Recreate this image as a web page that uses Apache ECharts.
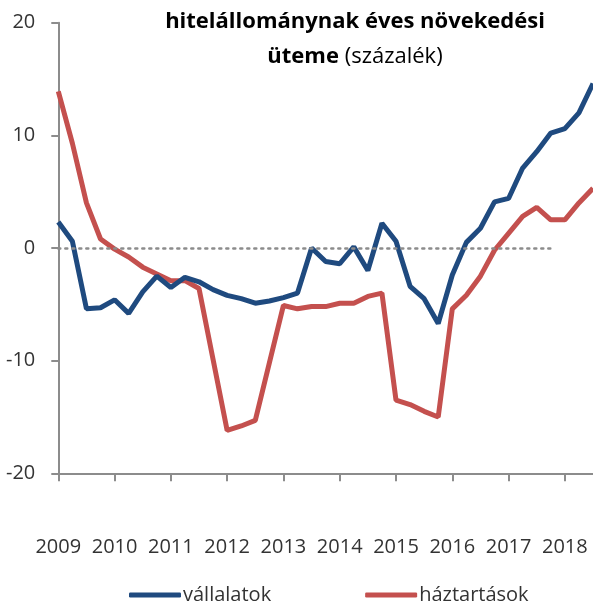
<!DOCTYPE html>
<html>
<head>
<meta charset="utf-8">
<script src="https://cdn.jsdelivr.net/npm/echarts@6/dist/echarts.min.js"></script>
<style>
  html, body { margin: 0; padding: 0; background: #fff; }
  #chart { width: 593px; height: 604px; }
</style>
</head>
<body>
<div id="chart"></div>
<script>
// negyedéves adatok, 2009 Q1 - 2018 Q3
const years = ['2009', '2010', '2011', '2012', '2013', '2014', '2015', '2016', '2017', '2018'];
const quarters = [];
years.forEach(y => ['Q1', 'Q2', 'Q3', 'Q4'].forEach(q => quarters.push(y + q)));
quarters.length = 39;

const vallalatok = [
  2.3, 0.6, -5.4, -5.3, -4.6, -5.8, -3.9, -2.5,
  -3.5, -2.6, -3.0, -3.7, -4.2, -4.5, -4.9, -4.7,
  -4.4, -4.0, 0.0, -1.2, -1.4, 0.1, -2.0, 2.2,
  0.6, -3.4, -4.5, -6.7, -2.4, 0.5, 1.75, 4.1,
  4.4, 7.1, 8.55, 10.2, 10.6, 12.0, 14.6
];
const haztartasok = [
  13.9, 9.3, 4.0, 0.8, -0.1, -0.8, -1.7, -2.3,
  -2.9, -2.9, -3.6, -9.9, -16.2, -15.8, -15.3, -10.2,
  -5.1, -5.4, -5.2, -5.2, -4.9, -4.9, -4.3, -4.0,
  -13.5, -13.9, -14.5, -15.0, -5.4, -4.2, -2.5, -0.2,
  1.3, 2.8, 3.6, 2.5, 2.5, 4.0, 5.3
];
const yTicks = { min: -20, max: 20, interval: 10 };

const chart = echarts.init(document.getElementById('chart'));
const axisGrey = '#8c8c8c';
const labelFont = 'Open Sans';

chart.setOption({
  animation: false,
  graphic: [
    {
      type: 'text',
      x: 355,
      y: 22,
      style: {
        text: 'hitelállománynak éves növekedési',
        font: 'bold 22px "Open Sans"',
        fill: '#000',
        align: 'center',
        verticalAlign: 'middle'
      }
    },
    {
      type: 'text',
      x: 355,
      y: 57,
      style: {
        text: '{b|üteme}{n| (százalék)}',
        rich: {
          b: { font: 'bold 22px "Open Sans"', fill: '#000' },
          n: { font: '22px "Open Sans"', fill: '#000' }
        },
        align: 'center',
        verticalAlign: 'middle'
      }
    }
  ],
  legend: {
    data: ['vállalatok', 'háztartások'],
    left: 124,
    top: 580,
    icon: 'roundRect',
    itemWidth: 52,
    itemHeight: 5,
    itemGap: 94,
    textStyle: { fontFamily: labelFont, fontSize: 20, color: '#333', padding: [0, 0, 0, -3] }
  },
  grid: { left: 58.3, right: -4.9, top: 22.7, bottom: 130.7 },
  xAxis: {
    type: 'category',
    data: quarters,
    boundaryGap: false,
    axisLine: { onZero: false, lineStyle: { color: axisGrey, width: 2 } },
    axisTick: { interval: 3, length: 8, lineStyle: { color: axisGrey, width: 2 } },
    axisLabel: {
      interval: 3,
      margin: 64,
      fontFamily: labelFont,
      fontSize: 20,
      color: '#333',
      formatter: v => v.slice(0, 4)
    },
    splitLine: { show: false }
  },
  yAxis: {
    type: 'value',
    min: yTicks.min,
    max: yTicks.max,
    interval: yTicks.interval,
    axisLine: { show: true, lineStyle: { color: axisGrey, width: 2 } },
    axisTick: { show: true, length: 7, lineStyle: { color: axisGrey, width: 2 } },
    axisLabel: { margin: 23, fontFamily: labelFont, fontSize: 20, color: '#333' },
    splitLine: { show: false }
  },
  series: [
    {
      name: 'nulla',
      type: 'line',
      data: [],
      z: 1,
      markLine: {
        silent: true,
        symbol: 'none',
        label: { show: false },
        lineStyle: { color: '#8c8c8c', type: [2, 5], width: 2.5, cap: 'round' },
        data: [[{ coord: [quarters[0], 0] }, { coord: [quarters[35], 0] }]]
      }
    },
    {
      name: 'vállalatok',
      type: 'line',
      data: vallalatok,
      symbol: 'none',
      z: 3,
      lineStyle: { color: '#1f4a7f', width: 5 },
      itemStyle: { color: '#1f4a7f' }
    },
    {
      name: 'háztartások',
      type: 'line',
      data: haztartasok,
      symbol: 'none',
      z: 2,
      lineStyle: { color: '#c4504e', width: 5 },
      itemStyle: { color: '#c4504e' }
    }
  ]
});
</script>
</body>
</html>
